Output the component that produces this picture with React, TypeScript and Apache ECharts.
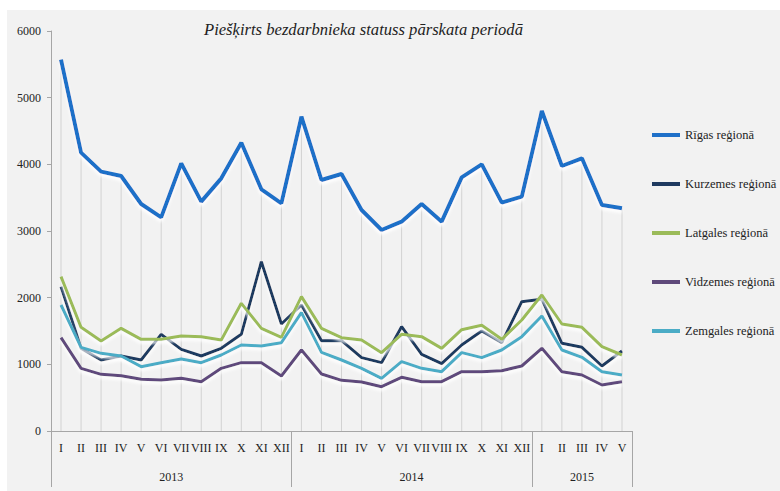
import React, { useEffect, useRef } from "react";
import * as echarts from "echarts";

const romanMonths = ["I", "II", "III", "IV", "V", "VI", "VII", "VIII", "IX", "X", "XI", "XII"];
const years = ["2013", "2014", "2015"];
const monthsPerYear = [12, 12, 5];
const categories = years.flatMap((y, i) =>
  romanMonths.slice(0, monthsPerYear[i]).map((m) => `${y}-${m}`)
);

const seriesNames = ["Rīgas reģionā", "Kurzemes reģionā", "Latgales reģionā", "Vidzemes reģionā", "Zemgales reģionā"];

const riga = [5570, 4175, 3890, 3825, 3405, 3205, 4015, 3440, 3790, 4325, 3625, 3415, 4715, 3765, 3855, 3315, 3015, 3140, 3405, 3140, 3805, 4000, 3425, 3515, 4800, 3975, 4090, 3390, 3340];
const kurzeme = [2165, 1240, 1065, 1125, 1065, 1450, 1225, 1125, 1240, 1450, 2540, 1605, 1890, 1355, 1355, 1100, 1025, 1565, 1150, 1010, 1290, 1500, 1325, 1940, 1975, 1315, 1255, 975, 1200];
const latgale = [2315, 1555, 1350, 1540, 1375, 1375, 1425, 1415, 1365, 1915, 1540, 1405, 2015, 1540, 1400, 1365, 1175, 1450, 1415, 1240, 1520, 1585, 1375, 1665, 2040, 1605, 1555, 1265, 1140];
const vidzeme = [1400, 940, 850, 830, 775, 765, 790, 740, 940, 1025, 1025, 825, 1215, 855, 760, 735, 665, 805, 740, 740, 890, 890, 905, 975, 1240, 890, 840, 690, 740];
const zemgale = [1890, 1255, 1165, 1125, 965, 1025, 1080, 1025, 1140, 1290, 1275, 1325, 1775, 1180, 1065, 940, 790, 1040, 940, 890, 1175, 1100, 1215, 1415, 1725, 1215, 1105, 890, 840];

const seriesData = [riga, kurzeme, latgale, vidzeme, zemgale];
const colors = ["#1f70c8", "#1f3a60", "#9bbb59", "#5f4a7b", "#4bacc6"];
const widths = [4, 3, 3, 3, 3];

const yearBounds: number[] = monthsPerYear.reduce((acc, n) => [...acc, acc[acc.length - 1] + n], [0] as number[]);
const yearCenters = years.map((_, i) => (yearBounds[i] + yearBounds[i + 1]) / 2);

const serif = "Liberation Serif";
const axisGray = "#a6a6a6";

export default function App() {
  const ref = useRef<HTMLDivElement>(null);
  useEffect(() => {
    if (!ref.current) return;
    const chart = echarts.init(ref.current, undefined, { renderer: "svg" });
    chart.setOption({
      animation: false,
      backgroundColor: "#ffffff",
      textStyle: { fontFamily: serif },
      graphic: [
        {
          type: "rect",
          z: -10,
          silent: true,
          shape: { x: 7, y: 10, width: 773, height: 481 },
          style: { fill: "#f2f2f2" },
        },
      ],
      title: {
        text: "Piešķirts bezdarbnieka statuss pārskata periodā",
        left: 204,
        top: 18,
        padding: 0,
        textStyle: {
          fontFamily: serif,
          fontStyle: "italic",
          fontWeight: "normal",
          fontSize: 16.6,
          color: "#222",
          lineHeight: 22,
        },
      },
      legend: {
        orient: "vertical",
        left: 652,
        top: 128,
        padding: 0,
        itemWidth: 28,
        itemHeight: 4,
        itemGap: 35,
        icon: "rect",
        data: seriesNames,
        textStyle: { fontFamily: serif, fontSize: 12.5, color: "#222", lineHeight: 14 },
      },
      grid: { left: 51, right: 148, top: 31, bottom: 60 },
      xAxis: [
        {
          type: "category",
          data: categories,
          boundaryGap: true,
          axisLine: { show: true, lineStyle: { color: axisGray, width: 1 } },
          axisTick: { show: false },
          axisLabel: {
            interval: 0,
            margin: 11,
            fontFamily: serif,
            fontSize: 12,
            color: "#222",
            formatter: (v: string) => v.split("-")[1],
          },
          splitLine: { show: false },
        },
        {
          type: "value",
          min: 0,
          max: categories.length,
          position: "bottom",
          axisLine: { show: false },
          axisTick: {
            show: true,
            customValues: yearBounds,
            length: 56,
            lineStyle: { color: axisGray, width: 1 },
          },
          axisLabel: {
            show: true,
            customValues: yearCenters,
            margin: 40,
            fontFamily: serif,
            fontSize: 12,
            color: "#222",
            formatter: (v: number) => {
              const i = yearCenters.findIndex((c) => Math.abs(c - v) < 0.01);
              return i >= 0 ? years[i] : "";
            },
          },
          splitLine: { show: false },
        },
      ],
      yAxis: {
        type: "value",
        min: 0,
        max: 6000,
        interval: 1000,
        axisLine: { show: true, lineStyle: { color: axisGray, width: 1 } },
        axisTick: { show: true, length: 4, lineStyle: { color: axisGray } },
        axisLabel: {
          fontFamily: serif,
          fontSize: 12,
          color: "#222",
          margin: 10,
          formatter: (v: number) => String(v),
        },
        splitLine: { show: false },
      },
      series: [
        {
          type: "bar",
          name: "drop",
          data: riga,
          barWidth: 1,
          silent: true,
          itemStyle: { color: "#d2d2d2" },
          z: 1,
        },
        ...seriesNames.map((name, i) => ({
          type: "line",
          name,
          data: seriesData[i],
          showSymbol: false,
          symbol: "none",
          z: 3 + i,
          color: colors[i],
          lineStyle: {
            color: colors[i],
            width: widths[i],
            shadowColor: "rgba(255,255,255,0.95)",
            shadowBlur: 3,
            shadowOffsetY: 3,
          },
        })),
      ],
    });
    return () => chart.dispose();
  }, []);
  return (
    <div
      ref={ref}
      style={{ position: "fixed", left: 0, top: 0, width: 780, height: 491 }}
    />
  );
}
